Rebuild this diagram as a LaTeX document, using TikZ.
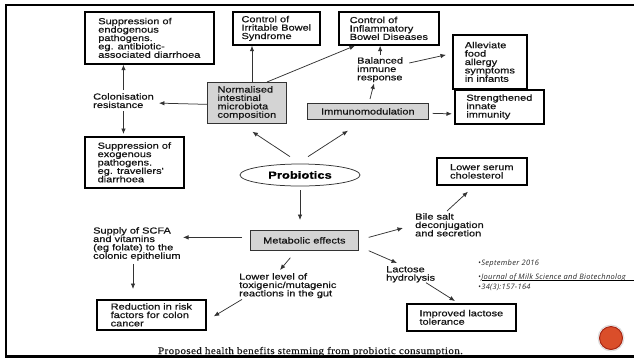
\documentclass[tikz,border=0pt]{standalone}
\usepackage{fontspec}
\setmainfont{Liberation Sans}
\newfontfamily\dfont[FakeStretch=1.25,FakeBold=0.6]{Liberation Sans}
\newfontfamily\capfont[FakeStretch=1.1,LetterSpace=4,FakeBold=0.4]{Liberation Serif}
\newfontfamily\reffont[LetterSpace=4]{Open Sans}
\usetikzlibrary{arrows.meta,shapes.geometric,calc}
\definecolor{logofill}{RGB}{218,78,42}
\definecolor{logoring}{RGB}{165,38,20}
\begin{document}
\begin{tikzpicture}[x=1pt,y=-1pt,
 txt/.style={font=\dfont\fontsize{8.8}{8.4}\selectfont, text=black!92, align=left},
 wbox/.style={txt, draw=black, line width=1.7pt, fill=white, anchor=north west, inner sep=0pt},
 gbox/.style={txt, draw=black!80, line width=0.7pt, fill=black!17, anchor=north west, inner sep=0pt},
 lbl/.style={txt, anchor=north west, inner sep=0pt},
 arr/.style={draw=black!80, line width=0.75pt, -{Latex[length=5.5pt,width=4.5pt]}},
 ref/.style={font=\reffont\itshape\fontsize{7.5}{8}\selectfont, text=black!85, anchor=base west, inner sep=0pt},
]
\useasboundingbox (0,0) rectangle (634,360);
% slide frame
\draw[line width=2.5pt] (634,4.8) -- (6.2,4.8) -- (6.2,356.6) -- (634,356.6);

% boxes
\node[wbox, minimum width=129pt, minimum height=52pt] (endo) at (84,11) {Suppression of\\endogenous\\pathogens.\\eg. antibiotic-\\associated diarrhoea};
\node[wbox, minimum width=87pt, minimum height=33pt] (ibs) at (232,11) {Control of\\Irritable Bowel\\Syndrome};
\node[wbox, minimum width=100pt, minimum height=33pt] (ibd) at (338,11) {Control of\\Inflammatory\\Bowel Diseases};
\node[wbox, minimum width=74pt, minimum height=54pt] (allergy) at (452,34) {Alleviate\\food\\allergy\\symptoms\\in infants};
\node[wbox, minimum width=89pt, minimum height=34pt] (innate) at (454,89) {Strengthened\\innate\\immunity};
\node[gbox, minimum width=121pt, minimum height=16pt] (immuno) at (307,103) {Immunomodulation};
\node[gbox, minimum width=79pt, minimum height=41pt] (normal) at (207,82) {Normalised\\intestinal\\microbiota\\composition};
\node[wbox, minimum width=99pt, minimum height=51pt] (exo) at (84,136) {Suppression of\\exogenous\\pathogens.\\eg. travellers'\\diarrhoea};
\node[gbox, minimum width=108pt, minimum height=20pt] (metab) at (250,230) {Metabolic effects};
\node[wbox, minimum width=109pt, minimum height=30pt] (reduce) at (96,299) {Reduction in risk\\factors for colon\\cancer};
\node[wbox, minimum width=109pt, minimum height=27pt] (improved) at (406,303) {Improved lactose\\tolerance};
\node[wbox, minimum width=90pt, minimum height=27pt] (serum) at (436,157) {Lower serum\\cholesterol};

% plain labels
\node[lbl] (balanced) at (357,57) {Balanced\\immune\\response};
\node[lbl] (colres) at (93,93) {Colonisation\\resistance};
\node[lbl] (scfa) at (93,227) {Supply of SCFA\\and vitamins\\(eg folate) to the\\colonic epithelium};
\node[lbl] (lower) at (239,273) {Lower level of\\toxigenic/mutagenic\\reactions in the gut};
\node[lbl] (lactose) at (386,266) {Lactose\\hydrolysis};
\node[lbl] (bile) at (415,213) {Bile salt\\deconjugation\\and secretion};

% probiotics
\node[ellipse, draw=black!80, line width=0.75pt, minimum width=120pt, minimum height=22pt, inner sep=0pt,
      font=\dfont\bfseries\fontsize{10.4}{12}\selectfont] (prob) at (300,175) {Probiotics};

% connectors
\draw[arr] ([xshift=45pt]normal.north west) -- ([xshift=20pt]ibs.south west);
\draw[arr] ($(normal.north west)+(60,0)$) -- ($(ibd.south west)+(17,0)$);
\draw[arr] ($(normal.west)+(0,1.5)$) -- ($(colres.east)+(5,2.5)$);
\draw[arr, shorten <=3pt] (colres.north) -- (colres.north |- endo.south);
\draw[arr, shorten <=3pt, shorten >=2pt] (colres.south) -- (colres.south |- exo.north);
\draw[arr, shorten <=2pt] (balanced.north) -- (balanced.north |- ibd.south);
\draw[arr] ($(balanced.north east)+(6,6)$) -- ($(allergy.west)+(-6,-7)$);
\draw[arr] ($(immuno.north west)+(63,-4)$) -- ($(balanced.south west)+(17,1)$);
\draw[arr] ($(immuno.east)+(4,2)$) -- ($(innate.west)+(-2,7)$);
\draw[arr] ($(prob.north)+(-10,-7)$) -- ($(normal.south)+(5.5,8)$);
\draw[arr] ($(prob.north)+(8,-7)$) -- ($(immuno.south west)+(41,11)$);
\draw[arr, shorten <=4pt, shorten >=10pt] (prob.south) -- (prob.south |- metab.north);
\draw[arr] ($(metab.west)+(-8,-3)$) -- ($(metab.west)+(-67,-3)$);
\draw[arr] ($(scfa.south west)+(40,3)$) -- ($(reduce.north west)+(37,-10)$);
\draw[arr] ($(lower.south west)+(3,1)$) -- ($(reduce.east)+(7,1.5)$);
\draw[arr] ($(metab.south)+(-14,7)$) -- ($(lower.north west)+(41,-3)$);
\draw[arr] ($(metab.east)+(10,-3)$) -- ($(bile.north west)+(-12,15)$);
\draw[arr] ($(bile.north west)+(32,-2)$) -- ($(serum.south west)+(32,6)$);
\draw[arr] ($(metab.south east)+(10,0)$) -- ($(lactose.north west)+(11,-3)$);
\draw[arr] ($(lactose.south west)+(40,0)$) -- ($(improved.north west)+(49,-2)$);

% caption
\node[font=\capfont\fontsize{10}{11}\selectfont, text=black!90, anchor=base, inner sep=0pt] (cap) at (310.5,354) {Proposed health benefits stemming from probiotic consumption.};

% reference
\node[ref] (r1) at (478,265) {•September 2016};
\node[ref] (r2) at (478,279) {•Journal of Milk Science and Biotechnolog};
\node[ref] (r3) at (478,289) {•34(3):157-164};
\draw[line width=1.4pt] ($(r2.base west)+(4,1.2)$) -- ($(r2.base west)+(170,1.2)$);

% logo
\node[circle, minimum size=26pt, inner sep=0pt, draw=black!15, line width=0.8pt] (logoout) at (611,338) {};
\node[circle, minimum size=23pt, inner sep=0pt, fill=logofill, draw=logoring, line width=1pt] (logo) at (611,338) {};
\end{tikzpicture}
\end{document}
